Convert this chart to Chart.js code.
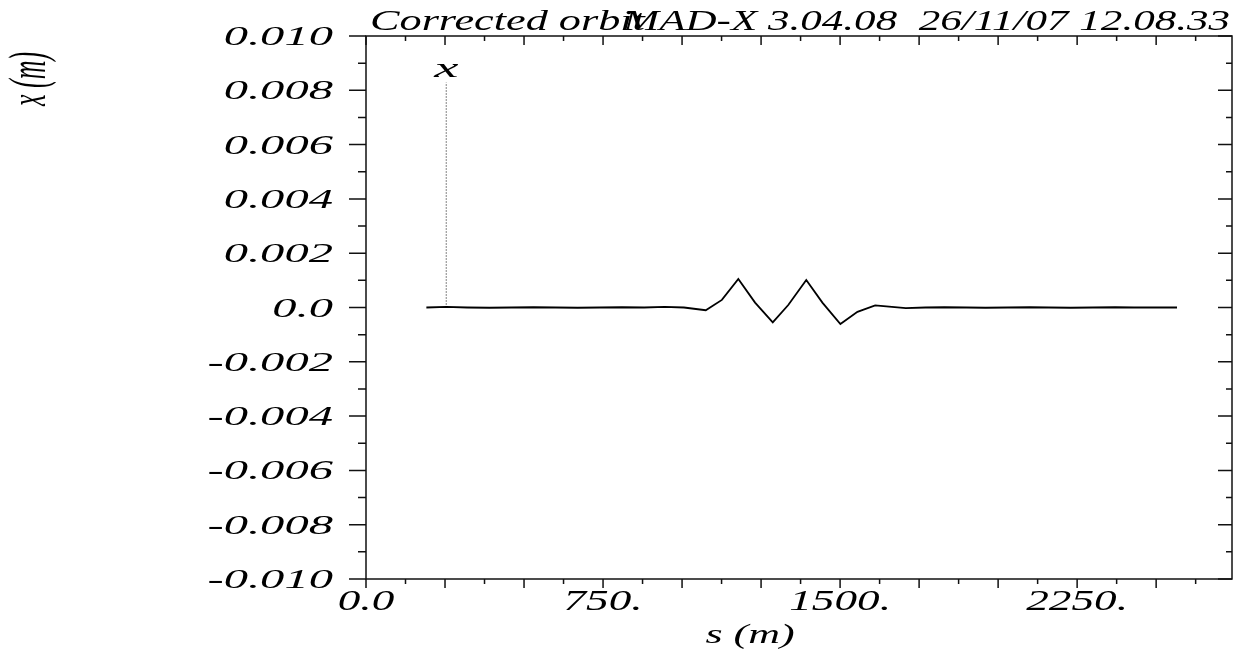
<!DOCTYPE html>
<html>
<head>
<meta charset="utf-8">
<title>Corrected orbit</title>
<script src="https://cdn.jsdelivr.net/npm/chart.js@4.4.0/dist/chart.umd.min.js"></script>
<style>
  html, body { margin: 0; padding: 0; background: #ffffff; }
  #wrap { width: 1240px; height: 653px; position: relative; }
</style>
</head>
<body>
<div id="wrap"><canvas id="orbit" width="1240" height="653"></canvas></div>
<script>
// Longitudinal position s (m) of each orbit sample
const sPositions = [191, 254, 320, 390, 460, 530, 600, 670, 740, 810, 880, 945, 1006,
  1075, 1126, 1178, 1231, 1287, 1336, 1393, 1444, 1501, 1555, 1611, 1655, 1708,
  1770, 1830, 1900, 1960, 2030, 2100, 2160, 2230, 2300, 2370, 2430, 2500, 2566];
// Horizontal closed orbit x (m) after correction
const xOrbit = [0.00000, 0.00002, 0.00000, -0.00001, 0.00000, 0.00001, 0.00000, -0.00001,
  0.00000, 0.00001, 0.00000, 0.00002, 0.00000,
  -0.00010, 0.00028, 0.00105, 0.00018, -0.00055, 0.00009, 0.00101, 0.00018, -0.00061,
  -0.00016, 0.00008, 0.00003, -0.00002,
  0.00000, 0.00001, 0.00000, -0.00001, 0.00000, 0.00001, 0.00000, -0.00001, 0.00000,
  0.00001, 0.00000, 0.00000, 0.00000];

// Axis ranges and labelled ticks
const sMin = 0, sMax = 2740;
const xMin = -0.010, xMax = 0.010;
const sTickValues = [0, 750, 1500, 2250];
const sTickLabels = ['0.0', '750.', '1500.', '2250.'];
const xTickValues = [0.010, 0.008, 0.006, 0.004, 0.002, 0.0, -0.002, -0.004, -0.006, -0.008, -0.010];
const xTickLabels = ['0.010', '0.008', '0.006', '0.004', '0.002', '0.0', '-0.002', '-0.004', '-0.006', '-0.008', '-0.010'];
const sMinorStep = 125, sMajorStep = 250;
const xMinorStep = 0.001, xMajorStep = 0.002;

// Text
const titleLeft = 'Corrected orbit';
const titleRight = 'MAD-X 3.04.08  26/11/07 12.08.33';
const sAxisTitle = 's (m)';
const xAxisTitle = 'x (m)';
const curveLabel = 'x';
// Curve label marker: dotted drop line from the label to the curve
const curveMarkS = [254, 254];
const curveMarkX = [0.0, 0.0083];

const SERIF = '"Liberation Serif", "DejaVu Serif", serif';

function stretchedText(ctx, text, x, y, size, sx, align) {
  ctx.save();
  ctx.font = 'italic ' + size + 'px ' + SERIF;
  ctx.textAlign = align;
  ctx.textBaseline = 'alphabetic';
  ctx.fillStyle = '#000';
  ctx.translate(x, y);
  ctx.scale(sx, 1);
  ctx.fillText(text, 0, 0);
  ctx.restore();
}

// Frame, MAD-X style ticks (outward left/bottom, inward right/top) and all texts
const madFrame = {
  id: 'madFrame',
  afterDatasetsDraw(chart) {
    const ctx = chart.ctx;
    const xs = chart.scales.x, ys = chart.scales.y;
    const L = xs.left, R = xs.right, T = ys.top, B = ys.bottom;

    ctx.save();
    ctx.strokeStyle = '#111';
    ctx.lineWidth = 1.5;
    ctx.strokeRect(L, T, R - L, B - T);

    ctx.beginPath();
    for (let v = sMin; v <= sMax + 1e-9; v += sMinorStep) {
      const px = xs.getPixelForValue(v);
      const major = Math.abs(v / sMajorStep - Math.round(v / sMajorStep)) < 1e-6;
      const len = major ? 9 : 5;
      ctx.moveTo(px, B); ctx.lineTo(px, B + len);
      ctx.moveTo(px, T); ctx.lineTo(px, T + len);
    }
    const nY = Math.round((xMax - xMin) / xMinorStep);
    for (let i = 0; i <= nY; i++) {
      const v = xMin + i * xMinorStep;
      const py = ys.getPixelForValue(v);
      const major = i % Math.round(xMajorStep / xMinorStep) === 0;
      ctx.moveTo(L, py); ctx.lineTo(L - (major ? 17 : 8), py);
      ctx.moveTo(R, py); ctx.lineTo(R - (major ? 14 : 6), py);
    }
    ctx.stroke();
    ctx.restore();

    // Tick labels
    xTickValues.forEach((v, i) => {
      stretchedText(ctx, xTickLabels[i], 333, ys.getPixelForValue(v) + 9, 27, 1.8, 'right');
    });
    sTickValues.forEach((v, i) => {
      stretchedText(ctx, sTickLabels[i], xs.getPixelForValue(v), 610, 29, 1.56, 'center');
    });

    // Titles
    stretchedText(ctx, titleLeft, 370, 30, 30, 1.475, 'left');
    stretchedText(ctx, titleRight, 1230, 30, 30, 1.435, 'right');
    stretchedText(ctx, sAxisTitle, 750, 643, 27, 1.63, 'center');

    // Rotated axis title
    ctx.save();
    ctx.font = 'italic 26px ' + SERIF;
    ctx.textAlign = 'center';
    ctx.textBaseline = 'alphabetic';
    ctx.fillStyle = '#000';
    ctx.translate(45, 79);
    ctx.rotate(-Math.PI / 2);
    ctx.scale(1, 2.0);
    ctx.fillText(xAxisTitle, 0, 0);
    ctx.restore();

    // Curve label
    stretchedText(ctx, curveLabel, xs.getPixelForValue(curveMarkS[0]), 77, 28, 1.95, 'center');
  }
};

new Chart(document.getElementById('orbit'), {
  type: 'line',
  data: {
    datasets: [
      {
        label: curveLabel,
        data: sPositions.map((s, i) => ({ x: s, y: xOrbit[i] })),
        borderColor: '#000',
        borderWidth: 1.8,
        pointRadius: 0,
        tension: 0,
        fill: false
      },
      {
        label: 'marker',
        data: curveMarkS.map((s, i) => ({ x: s, y: curveMarkX[i] })),
        borderColor: '#333',
        borderWidth: 1.2,
        borderDash: [1, 2],
        pointRadius: 0,
        fill: false
      }
    ]
  },
  options: {
    responsive: false,
    animation: false,
    devicePixelRatio: 1,
    layout: { padding: { left: 366, right: 8, top: 36, bottom: 74 } },
    scales: {
      x: { type: 'linear', min: sMin, max: sMax, display: false },
      y: { type: 'linear', min: xMin, max: xMax, display: false }
    },
    plugins: { legend: { display: false }, tooltip: { enabled: false }, title: { display: false } }
  },
  plugins: [madFrame]
});
</script>
</body>
</html>
